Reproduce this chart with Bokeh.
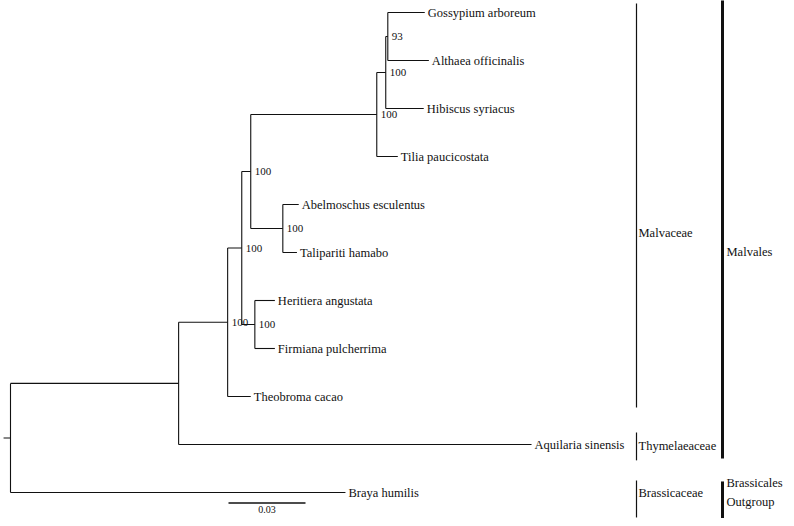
import numpy as np
from bokeh.plotting import figure
from bokeh.models import Range1d, ColumnDataSource
from bokeh.core.properties import value
from bokeh.embed import file_html
from bokeh.resources import INLINE

# ---------------- data ----------------
# internal nodes: name, parent, branch length (subst./site), bootstrap support
node_names = ["root", "n1", "n2", "n3", "n4", "n5", "n6", "n7", "n8", "n9"]
node_parents = [None, "root", "n1", "n2", "n3", "n3", "n4", "n4", "n6", "n8"]
node_lengths = [0.0027, 0.0655, 0.0191, 0.0055, 0.0035, 0.0051, 0.0491, 0.0125, 0.0035, 0.0008]
node_support = [None, None, 100, 100, 100, 100, 100, 100, 100, 93]

# tips (top to bottom)
tip_names = ["Gossypium arboreum", "Althaea officinalis", "Hibiscus syriacus",
             "Tilia paucicostata", "Abelmoschus esculentus", "Talipariti hamabo",
             "Heritiera angustata", "Firmiana pulcherrima", "Theobroma cacao",
             "Aquilaria sinensis", "Braya humilis"]
tip_parents = ["n9", "n9", "n8", "n6", "n7", "n7", "n5", "n5", "n2", "n1", "root"]
tip_lengths = [0.0144, 0.0160, 0.0148, 0.0082, 0.0062, 0.0055, 0.0078, 0.0078,
               0.0090, 0.1375, 0.1305]

# clade annotations: label, first tip, last tip
family_names = ["Malvaceae", "Thymelaeaceae", "Brassicaceae"]
family_first = [0, 9, 10]
family_last = [8, 9, 10]
order_names = ["Malvales", "Brassicales\nOutgroup"]
order_first = [0, 10]
order_last = [9, 10]

scale_length = 0.03
scale_label = "0.03"

# ---------------- layout of tree ----------------
names = node_names + tip_names
parents = node_parents + tip_parents
lengths = node_lengths + tip_lengths
children = {n: [] for n in names}
for n, par in zip(names, parents):
    if par is not None:
        children[par].append(n)

xpos, ypos = {}, {}
xpos["root"] = 0.0
order = ["root"]
i = 0
while i < len(order):
    n = order[i]
    for c in children[n]:
        xpos[c] = xpos[n] + lengths[names.index(c)]
        order.append(c)
    i += 1
for k, t in enumerate(tip_names):
    ypos[t] = float(k)

def gety(n):
    if n in ypos:
        return ypos[n]
    ys = [gety(c) for c in children[n]]
    ypos[n] = (min(ys) + max(ys)) / 2.0
    return ypos[n]
gety("root")

# segments
hx0, hx1, hy = [], [], []
for n, par in zip(names, parents):
    if par is None:
        hx0.append(-lengths[0]); hx1.append(0.0); hy.append(ypos[n])
    else:
        hx0.append(xpos[par]); hx1.append(xpos[n]); hy.append(ypos[n])
vx, vy0, vy1 = [], [], []
for n in node_names:
    ys = [ypos[c] for c in children[n]]
    vx.append(xpos[n]); vy0.append(min(ys)); vy1.append(max(ys))

# ---------------- figure ----------------
PX = 77.0 / 0.03          # pixels per substitution unit
W, H = 786, 518
x0 = -10.0 / PX
ROW = 48.0
y_top = -12.0 / ROW

p = figure(width=W, height=H, output_backend="svg", toolbar_location=None,
           x_range=Range1d(x0, x0 + W / PX),
           y_range=Range1d(y_top + H / ROW, y_top),
           min_border=0, outline_line_color=None)
p.axis.visible = False
p.grid.visible = False
p.background_fill_color = "white"
p.border_fill_color = "white"

p.segment(x0=hx0, y0=hy, x1=hx1, y1=hy, line_color="#111111", line_width=1.1)
p.segment(x0=vx, y0=vy0, x1=vx, y1=vy1, line_color="#111111", line_width=1.1)

serif = value("Liberation Serif")
# tip labels
p.text(x=[xpos[t] for t in tip_names], y=[ypos[t] for t in tip_names], text=tip_names,
       x_offset=3, text_baseline="middle", text_align="left",
       text_font=serif, text_font_size="12.5px", text_color="#111111")

# bootstrap labels
bx = [xpos[n] for n, s in zip(node_names, node_support) if s is not None]
by = [ypos[n] for n, s in zip(node_names, node_support) if s is not None]
bt = [str(s) for s in node_support if s is not None]
p.text(x=bx, y=by, text=bt, x_offset=4, y_offset=0, text_baseline="middle",
       text_font=serif, text_font_size="11px", text_color="#111111")

# scale bar
sb_x = (228 - 10) / PX
sb_y = 10.22
p.segment(x0=[sb_x], y0=[sb_y], x1=[sb_x + scale_length], y1=[sb_y],
          line_color="#111111", line_width=1.6)
p.text(x=[sb_x + scale_length / 2], y=[sb_y], y_offset=3, text=[scale_label],
       text_align="center", text_baseline="top",
       text_font=serif, text_font_size="10px", text_color="#111111")

# clade bars
fam_x = (636 - 10) / PX
ord_x = (722 - 10) / PX
fam_top_pad = [0.19, 0.25, 0.25]
fam_bot_pad = [0.23, 0.33, 0.52]
fy0 = [f - a for f, a in zip(family_first, fam_top_pad)]
fy1 = [l + b for l, b in zip(family_last, fam_bot_pad)]
p.segment(x0=[fam_x] * 3, y0=fy0, x1=[fam_x] * 3, y1=fy1, line_color="#111111", line_width=1.2)
fam_label_y = [4.6, 9.04, 10.02]
p.text(x=[fam_x] * 3, y=fam_label_y, text=family_names, x_offset=2,
       text_baseline="middle", text_font=serif, text_font_size="12.5px", text_color="#111111")

ord_top_pad = [0.3, 0.23]
ord_bot_pad = [0.29, 0.54]
oy0 = [f - a for f, a in zip(order_first, ord_top_pad)]
oy1 = [l + b for l, b in zip(order_last, ord_bot_pad)]
p.segment(x0=[ord_x] * 2, y0=oy0, x1=[ord_x] * 2, y1=oy1, line_color="#111111", line_width=3)
ord_label_y = [4.98, 10.0]
p.text(x=[ord_x] * 2, y=ord_label_y, text=order_names, x_offset=4,
       text_baseline="middle", text_font=serif, text_font_size="12.5px", text_color="#111111",
       text_line_height=1.3)

open("out.html", "w").write(file_html(p, INLINE))
